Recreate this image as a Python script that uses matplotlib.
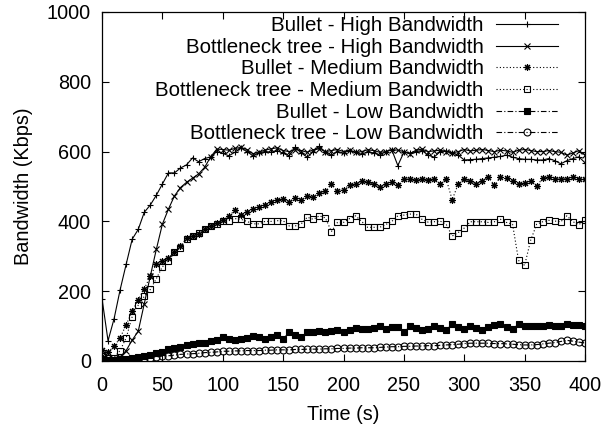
import matplotlib
matplotlib.use("Agg")
import matplotlib.pyplot as plt

# time axis (s), one sample every 5 s
time_s = list(range(0, 405, 5))

# values, rows of 9 samples = 45 s each
bullet_high = [
    179, 58, 121, 204, 277, 349, 377, 426, 447,
    475, 507, 539, 539, 553, 562, 582, 571, 580,
    585, 600, 595, 588, 598, 611, 600, 588, 596,
    600, 598, 603, 595, 588, 612, 596, 584, 600,
    615, 598, 590, 600, 596, 603, 598, 592, 600,
    596, 590, 600, 605, 560, 598, 596, 600, 603,
    590, 584, 600, 602, 596, 590, 576, 577, 578,
    580, 582, 584, 586, 590, 584, 580, 578, 578,
    576, 576, 580, 574, 565, 574, 580, 585, 568,
]
bottleneck_high = [
    15, 10, 5, 12, 30, 60, 85, 164, 243,
    320, 392, 435, 473, 497, 512, 524, 536, 555,
    585, 607, 606, 604, 609, 612, 606, 594, 599,
    604, 608, 611, 603, 600, 606, 603, 598, 605,
    608, 600, 603, 606, 600, 604, 598, 600, 605,
    603, 598, 600, 606, 604, 600, 594, 604, 607,
    600, 602, 604, 600, 596, 600, 606, 602, 604,
    606, 603, 600, 604, 602, 598, 604, 606, 603,
    600, 600, 603, 600, 598, 590, 596, 603, 590,
]
bullet_medium = [
    32, 25, 42, 66, 104, 142, 176, 207, 243,
    277, 286, 296, 311, 329, 352, 358, 365, 378,
    388, 395, 405, 415, 432, 418, 428, 435, 440,
    448, 455, 462, 464, 456, 467, 461, 473, 471,
    480, 486, 507, 486, 491, 505, 507, 515, 512,
    507, 499, 507, 512, 505, 521, 521, 518, 522,
    519, 522, 507, 522, 462, 507, 522, 515, 507,
    517, 527, 503, 527, 524, 515, 507, 510, 517,
    501, 524, 527, 522, 522, 522, 527, 522, 522,
]
bottleneck_medium = [
    15, 8, 10, 30, 66, 127, 160, 185, 205,
    236, 270, 286, 311, 325, 349, 358, 368, 378,
    387, 393, 400, 402, 408, 406, 400, 393, 393,
    400, 400, 402, 402, 387, 387, 393, 412, 406,
    416, 410, 371, 397, 397, 408, 416, 400, 383,
    383, 383, 391, 400, 416, 418, 421, 421, 406,
    398, 399, 401, 392, 358, 368, 381, 399, 399,
    399, 397, 399, 406, 397, 392, 288, 274, 346,
    392, 399, 403, 401, 399, 416, 399, 391, 403,
]
bullet_low = [
    5, 3, 4, 5, 6, 8, 11, 14, 17,
    22, 27, 33, 38, 41, 45, 49, 51, 53,
    58, 61, 69, 63, 61, 64, 66, 72, 68,
    63, 70, 75, 63, 82, 74, 68, 82, 84,
    87, 84, 86, 89, 82, 88, 95, 92, 92,
    95, 99, 92, 96, 98, 82, 99, 95, 89,
    92, 99, 95, 89, 105, 96, 92, 99, 94,
    89, 97, 103, 105, 98, 92, 105, 100, 99,
    99, 101, 103, 100, 101, 107, 103, 102, 100,
]
bottleneck_low = [
    2, 1, 1, 2, 3, 4, 6, 8, 10,
    12, 14, 15, 17, 19, 20, 21, 22, 24,
    25, 26, 28, 28, 29, 29, 30, 30, 30,
    31, 31, 32, 32, 32, 33, 33, 34, 34,
    34, 35, 35, 36, 36, 37, 37, 38, 38,
    38, 39, 40, 41, 41, 42, 42, 43, 43,
    44, 44, 45, 46, 47, 48, 50, 51, 51,
    51, 51, 50, 50, 49, 48, 47, 46, 46,
    47, 49, 51, 53, 56, 59, 57, 54, 52,
]

plt.rcParams['font.family'] = ['Liberation Sans', 'DejaVu Sans']
plt.rcParams['font.size'] = 14.3

fig = plt.figure(figsize=(6.01, 4.28), dpi=100)
ax = fig.add_axes([102 / 601, 67 / 428, 483 / 601, 349 / 428])

dashdot = (0, (5, 2, 1, 2))
series = [
    (bullet_high, 'Bullet - High Bandwidth', '-', '+', 'k'),
    (bottleneck_high, 'Bottleneck tree - High Bandwidth', '-', 'x', 'k'),
    (bullet_medium, 'Bullet - Medium Bandwidth', (0, (1, 2)), (8, 2, 0), 'k'),
    (bottleneck_medium, 'Bottleneck tree - Medium Bandwidth', (0, (1, 2)), 's', 'none'),
    (bullet_low, 'Bullet - Low Bandwidth', dashdot, 's', 'k'),
    (bottleneck_low, 'Bottleneck tree - Low Bandwidth', dashdot, 'o', 'none'),
]
for vals, label, ls, mk, fc in series:
    ax.plot(time_s, vals, color='k', linestyle=ls, linewidth=0.8,
            marker=mk, markersize=5, markerfacecolor=fc,
            markeredgecolor='k', markeredgewidth=0.8, label=label)

ax.set_xlim(0, 400)
ax.set_ylim(0, 1000)
ax.set_xticks(range(0, 401, 50))
ax.set_yticks(range(0, 1001, 200))
ax.tick_params(direction='in', top=True, right=True, length=5, width=0.8)
ax.tick_params(axis='x', pad=11)
ax.tick_params(axis='y', pad=8)
for s in ax.spines.values():
    s.set_linewidth(0.9)

ax.set_xlabel('Time (s)', labelpad=7)
ax.set_ylabel('Bandwidth (Kbps)', labelpad=10)

ax.legend(loc='upper right', frameon=False, markerfirst=False, handlelength=3.0,
          handletextpad=0.6, labelspacing=0.13, borderaxespad=0.0, borderpad=0.2,
          bbox_to_anchor=(0.952, 1.0), fontsize=14.8)

fig.savefig('out.png', dpi=100)
